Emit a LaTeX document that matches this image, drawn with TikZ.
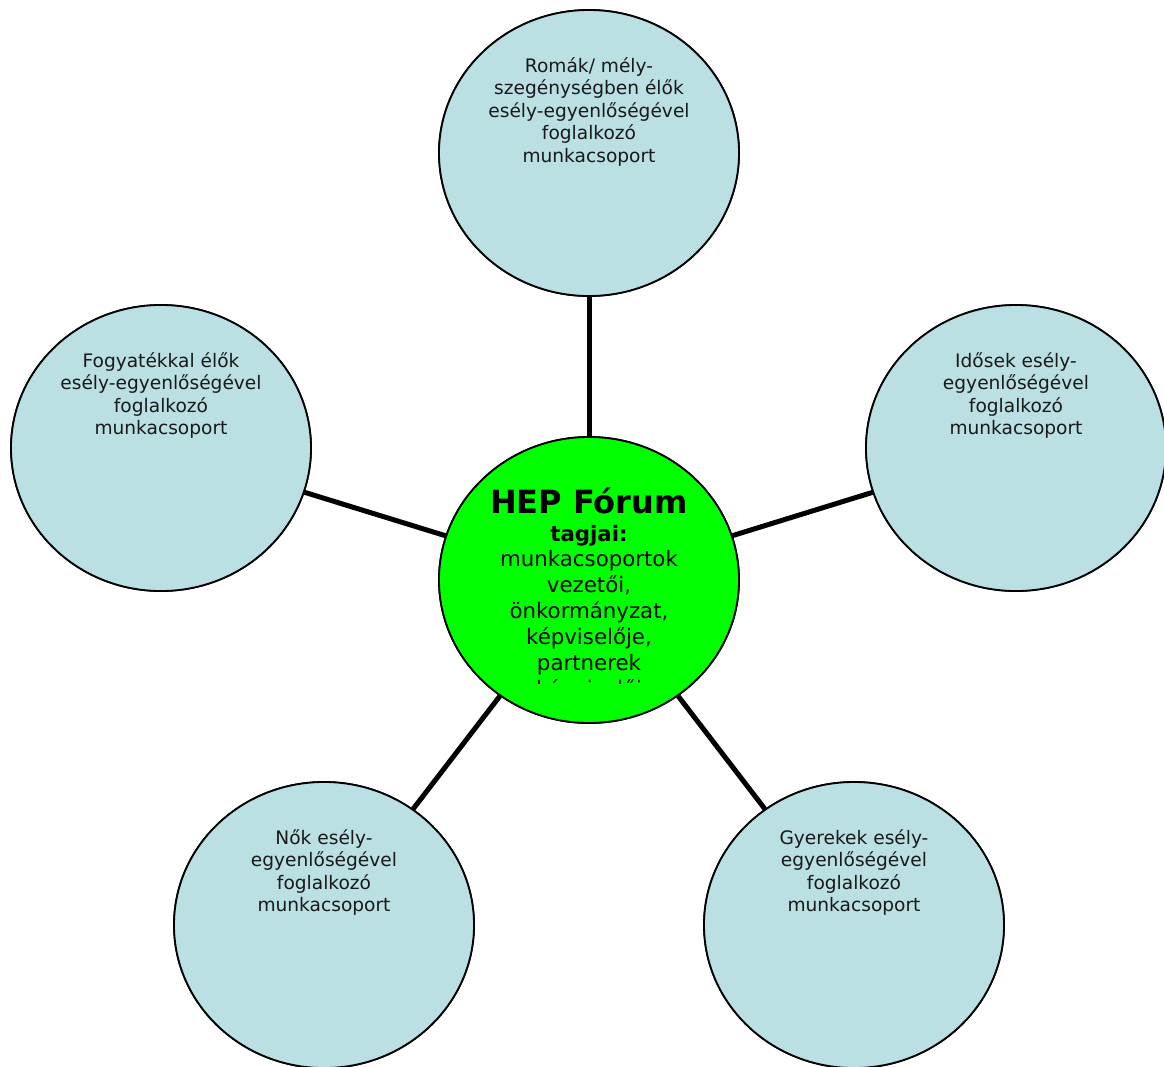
\documentclass[tikz,border=0pt]{standalone}
\usepackage{fontspec}
\setmainfont{DejaVu Sans}
\usetikzlibrary{shapes.geometric}
\definecolor{groupblue}{RGB}{186,224,228}
\definecolor{forumgreen}{RGB}{0,255,0}
\tikzset{
  group/.style = {ellipse, draw=black, line width=1.8pt, fill=groupblue,
                  minimum width=300pt, minimum height=286pt, inner sep=0pt},
  forum/.style = {group, fill=forumgreen},
  grouptext/.style = {align=center, anchor=north, inner sep=0pt,
                      font=\fontsize{18.6}{22.6}\selectfont, text=black!90},
  forumtext/.style = {align=center, inner sep=0pt,
                      font=\fontsize{21.3}{25.8}\selectfont},
  spoke/.style = {line width=5pt, black}
}
\begin{document}
\begin{tikzpicture}[x=1pt, y=-1pt]
            \useasboundingbox (0,0) rectangle (1164,1066);
            % centre and the five working groups
            \node[forum] (forum) at (589,580) {};
            \node[group] (roma) at (589,153) {};
            \node[group] (fogy) at (161,448) {};
            \node[group] (idos) at (1016,448) {};
            \node[group] (nok) at (324,925) {};
            \node[group] (gyer) at (854,925) {};
            % spokes, then circles again on top of them
            \foreach \g in {roma, fogy, idos, nok, gyer}
                \draw[spoke] (forum) -- (\g);
            \node[forum] at (forum) {};
            \foreach \g in {roma, fogy, idos, nok, gyer}
                \node[group] at (\g) {};

            \node[grouptext] (romatxt) at ([yshift=-48]roma.north)
                {Romák/ mély-\\szegénységben élők\\esély-egyenlőségével\\foglalkozó\\munkacsoport};
            \node[grouptext] (fogytxt) at ([yshift=-48]fogy.north)
                {Fogyatékkal élők\\esély-egyenlőségével\\foglalkozó\\munkacsoport};
            \node[grouptext] (idostxt) at ([yshift=-48]idos.north)
                {Idősek esély-\\egyenlőségével\\foglalkozó\\munkacsoport};
            \node[grouptext] (noktxt) at ([yshift=-48]nok.north)
                {Nők esély-\\egyenlőségével\\foglalkozó\\munkacsoport};
            \node[grouptext] (gyertxt) at ([yshift=-48]gyer.north)
                {Gyerekek esély-\\egyenlőségével\\foglalkozó\\munkacsoport};

            % text of the forum, last line cut off as in the source box
            \node[forumtext, anchor=base] (forumtxt) at (589,670)
                {{\fontsize{32}{34}\selectfont\bfseries HEP Fórum}\\[2pt]
                 {\bfseries tagjai:}\\
                 munkacsoportok\\
                 vezetői,\\
                 önkormányzat,\\
                 képviselője,\\
                 partnerek};
            \begin{scope}
                \clip (440,670) rectangle (740,683);
                \node[forumtext, anchor=base] (cuttxt) at (589,696) {képviselői};
            \end{scope}
\end{tikzpicture}
\end{document}
